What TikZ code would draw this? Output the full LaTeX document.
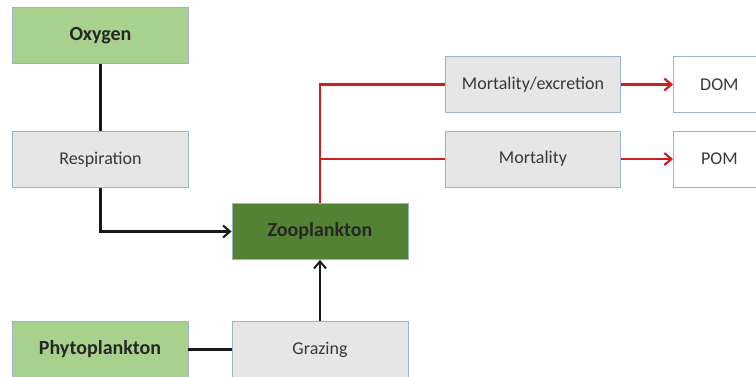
\documentclass[tikz,border=0pt]{standalone}
\usepackage{fontspec}
\setmainfont{Carlito}
\usetikzlibrary{arrows.meta}
\definecolor{lightgreen}{HTML}{A9D18E}
\definecolor{darkgreen}{HTML}{548235}
\definecolor{boxgray}{HTML}{E7E6E6}
\definecolor{boxedge}{HTML}{9DB3CC}
\definecolor{txtgray}{HTML}{383838}
\definecolor{flowred}{HTML}{CC1F24}
\tikzset{
  box/.style={draw=boxedge, line width=0.8pt, minimum width=176pt, minimum height=56pt,
              inner sep=0pt, font=\fontsize{18}{21}\selectfont, text=txtgray, fill=boxgray},
  greenbox/.style={box, fill=lightgreen, text=black!85, font=\fontsize{20}{24}\selectfont\bfseries},
  zoobox/.style={box, fill=darkgreen, text=black!85, font=\fontsize{20}{24}\selectfont\bfseries},
  outbox/.style={box, fill=white, minimum width=92pt},
  blackline/.style={draw=black!90, line width=2.6pt},
  redline/.style={draw=flowred, line width=2.5pt},
  blackarrow/.style={blackline, -{Straight Barb[length=7pt,width=12pt,line width=2pt]}},
  redarrow/.style={redline, -{Straight Barb[length=7pt,width=12pt,line width=2.2pt]}}
}
\begin{document}
\begin{tikzpicture}[x=1pt,y=-1pt]
\useasboundingbox (0,0) rectangle (756,377);
\begin{scope}
\clip (0,0) rectangle (756,377);
\node[greenbox] (oxy) at (100.5,35.5) {Oxygen};
\node[box] (resp) at (100.5,159.5) {Respiration};
\node[zoobox] (zoo) at (320,231.5) {Zooplankton};
\node[greenbox] (phyto) at (100,349.5) {Phytoplankton};
\node[box] (graz) at (320,349.5) {Grazing};
\node[box, minimum width=175pt] (mortex) at (533,84.5) {Mortality/excretion};
\node[box, minimum width=175pt] (mort) at (533,159) {Mortality};
\node[outbox, anchor=west] (dom) at (673,84.5) {DOM};
\node[outbox, anchor=west] (pom) at (673,159) {POM};
\end{scope}
% black connectors
\draw[blackline] (oxy.south) -- (resp.north);
\draw[blackarrow] (resp.south) |- (zoo.west);
\draw[blackline] (phyto.east) -- (graz.west);
\draw[blackarrow] (graz.north) -- (zoo.south);
% red connectors from Zooplankton
\coordinate (split) at (zoo.north |- mort.west);
\draw[redline] (zoo.north) |- (mortex.west);
\draw[redline] (split) -- (mort.west);
\draw[redarrow] (mortex.east) -- (dom.west);
\draw[redarrow] (mort.east) -- (pom.west);
\end{tikzpicture}
\end{document}
